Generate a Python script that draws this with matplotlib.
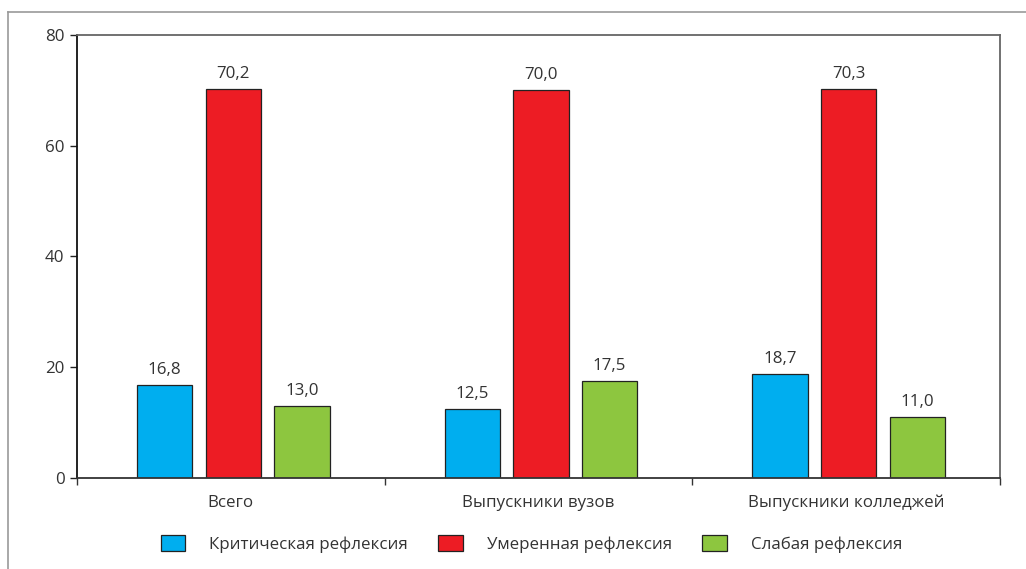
import matplotlib
matplotlib.use("Agg")
from matplotlib import pyplot as plt
from matplotlib.lines import Line2D
import numpy as np

plt.rcParams['font.family'] = ['Open Sans', 'DejaVu Sans']

# data
groups = ["Всего", "Выпускники вузов", "Выпускники колледжей"]
series = ["Критическая рефлексия", "Умеренная рефлексия", "Слабая рефлексия"]
critical = [16.8, 12.5, 18.7]
moderate = [70.2, 70.0, 70.3]
weak = [13.0, 17.5, 11.0]
colors = ["#00aeef", "#ed1c24", "#8dc63f"]

fig = plt.figure(figsize=(10.26, 5.69), dpi=100)
ax = fig.add_axes([0.075, 0.16, 0.8997, 0.7785])

x = np.arange(len(groups))
w = 0.18
step = 0.223
txt = "#333333"
fs = 12.2

for i, (vals, c, name) in enumerate(zip([critical, moderate, weak], colors, series)):
    bars = ax.bar(x + (i - 1) * step + 0.008, vals, width=w, color=c,
                  edgecolor="#222222", linewidth=0.9, label=name, zorder=2)
    for b, v in zip(bars, vals):
        ax.annotate(f"{v:.1f}".replace(".", ","),
                    (b.get_x() + b.get_width() / 2, v),
                    xytext=(0, 5), textcoords="offset points",
                    ha="center", va="bottom", fontsize=fs, color=txt)

ax.set_xlim(-0.5, 2.5)
ax.set_ylim(0, 80)
ax.set_yticks([0, 20, 40, 60, 80])
ax.set_xticks(x)
ax.set_xticklabels(groups)
ax.set_xticks([-0.5, 0.5, 1.5, 2.5], minor=True)
ax.tick_params(axis="x", which="major", length=0, pad=12, labelsize=fs, labelcolor=txt)
ax.tick_params(axis="x", which="minor", length=5, width=1, color="#333333")
ax.tick_params(axis="y", length=5, width=1, color="#222222", labelsize=fs,
               labelcolor=txt, pad=4)

ax.spines["left"].set_color("#111111")
ax.spines["bottom"].set_color("#333333")
ax.spines["top"].set_color("#666666")
ax.spines["right"].set_color("#666666")
for s in ax.spines.values():
    s.set_linewidth(1.3)

leg = fig.legend(loc="center", bbox_to_anchor=(0.518, 0.044), ncol=3, frameon=False,
                 fontsize=fs, handlelength=1.45, handleheight=1.05,
                 handletextpad=1.4, columnspacing=1.8)
for t in leg.get_texts():
    t.set_color(txt)

# outer frame (top and left)
fig.add_artist(Line2D([0.008, 1.0], [1 - 12 / 569, 1 - 12 / 569], color="#999999", lw=1.2))
fig.add_artist(Line2D([0.008, 0.008], [0, 1 - 12 / 569], color="#999999", lw=1.2))

fig.savefig("out.png", dpi=100)
